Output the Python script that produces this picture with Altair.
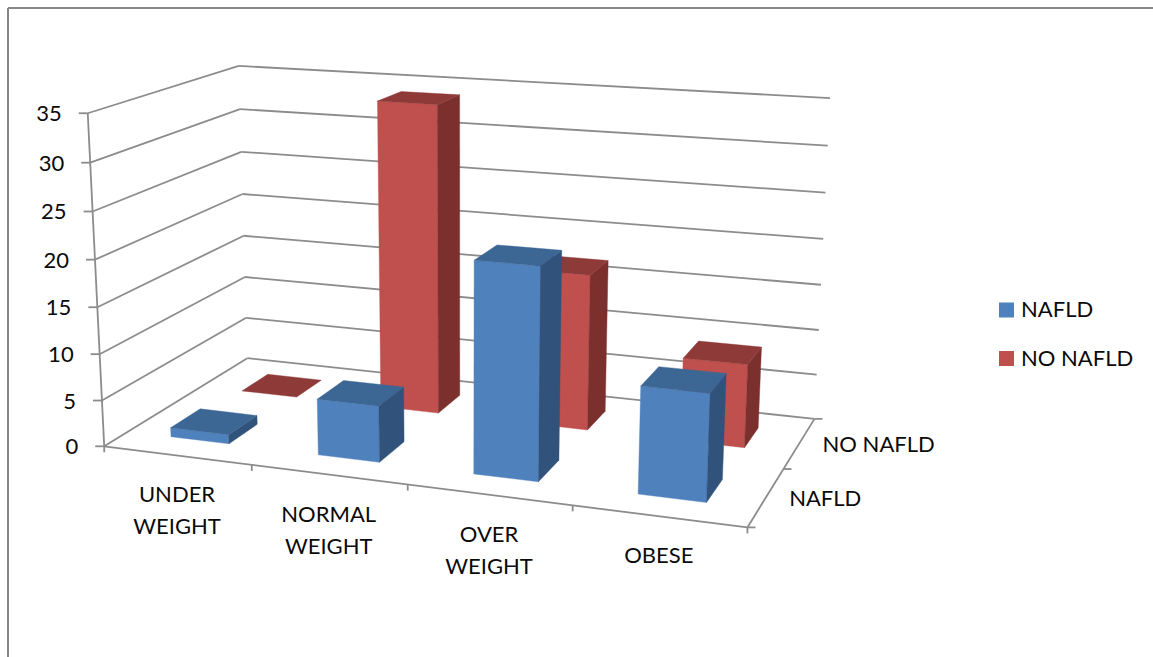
import altair as alt
import numpy as np

# Chart content
CATEGORIES = ["UNDER WEIGHT", "NORMAL WEIGHT", "OVER WEIGHT", "OBESE"]
SERIES = ["NAFLD", "NO NAFLD"]
NAFLD = [1, 6, 22, 11]
NO_NAFLD = [0, 34, 17, 9]
VALUE_TICKS = [0, 5, 10, 15, 20, 25, 30, 35]

FONT = "Lato"
TEXT = "#0A0A0A"
GRID = "#8C8C8C"
BORDER = "#868686"
BLUE = {"front": "#4F81BD", "top": "#3C6694", "side": "#31537B"}
RED = {"front": "#C0504D", "top": "#8E3A38", "side": "#7B302E"}
BAR_FRACTION = 0.4

# Camera calibration: (category, depth, value) -> screen position
CAMERA_POINTS = [
    ((0, 0, 0), (105, 446)), ((1, 0, 0), (252, 466)), ((2, 0, 0), (407, 485)),
    ((3, 0, 0), (572, 506)), ((4, 0, 0), (748, 527)), ((4, 1, 0), (783, 468)),
    ((4, 2, 0), (815, 418)), ((0, 2, 0), (247, 358)), ((0, 0, 35), (88, 113)),
    ((0, 0, 30), (90, 162)), ((0, 2, 35), (239, 66)), ((0, 2, 25), (241, 152)),
    ((4, 2, 35), (830, 98)), ((4, 2, 20), (823, 240)), ((4, 2, 5), (817, 375)),
]


def solve_camera(points):
    rows = []
    for (u, v, h), (x, y) in points:
        p = [u, v, h / 10, 1]
        rows.append(p + [0, 0, 0, 0] + [-x * c for c in p])
        rows.append([0, 0, 0, 0] + p + [-y * c for c in p])
    return np.linalg.svd(np.array(rows, float))[2][-1].reshape(3, 4)


CAMERA = solve_camera(CAMERA_POINTS)


def project(u, v, h):
    sx, sy, w = CAMERA @ np.array([u, v, h / 10, 1.0])
    return [float(sx / w), float(sy / w)]


def face(corners, fill):
    ring = [project(*c) for c in corners]
    ring.append(ring[0])
    # d3-geo treats the ring as planar under the identity projection; keep a stable winding
    area = sum(a[0] * b[1] - b[0] * a[1] for a, b in zip(ring, ring[1:]))
    if area > 0:
        ring.reverse()
    return {"type": "Feature", "properties": {"fill": fill},
            "geometry": {"type": "Polygon", "coordinates": [ring]}}


def bar_faces(cat, depth, value, shades):
    gap = (1 - BAR_FRACTION) / 2
    u0, u1 = cat + gap, cat + 1 - gap
    v0, v1 = depth + gap, depth + 1 - gap
    faces = []
    if value > 0:
        faces.append(face([(u0, v0, 0), (u1, v0, 0), (u1, v0, value), (u0, v0, value)], shades["front"]))
        faces.append(face([(u1, v0, 0), (u1, v1, 0), (u1, v1, value), (u1, v0, value)], shades["side"]))
    faces.append(face([(u0, v0, value), (u1, v0, value), (u1, v1, value), (u0, v1, value)], shades["top"]))
    return faces


# Rear series first so the front row paints over it
polygons = []
for i, val in enumerate(NO_NAFLD):
    polygons += bar_faces(i, 1, val, RED)
for i, val in enumerate(NAFLD):
    polygons += bar_faces(i, 0, val, BLUE)


def seg(a, b, dx=0, dy=0):
    pa, pb = project(*a), project(*b)
    return {"x": pa[0], "y": pa[1], "x2": pb[0] + dx, "y2": pb[1] + dy}


n = len(CATEGORIES)
grid_rows = []
for t in VALUE_TICKS:
    grid_rows.append(seg((0, 0, t), (0, 2, t)))
    grid_rows.append(seg((0, 2, t), (n, 2, t)))
axis_rows = [seg((0, 0, 0), (0, 0, 35)), seg((0, 0, 0), (n, 0, 0)), seg((n, 0, 0), (n, 2, 0))]
for t in VALUE_TICKS:
    axis_rows.append(seg((0, 0, t), (0, 0, t), dx=-9))
for i in range(n + 1):
    axis_rows.append(seg((i, 0, 0), (i, 0, 0), dy=6))
for d in range(3):
    axis_rows.append(seg((n, d, 0), (n, d, 0), dx=8))

text_rows = []
for t in VALUE_TICKS:
    x, y = project(0, 0, t)
    text_rows.append({"x": x - 26, "y": y + 1, "label": str(t), "align": "right"})
for i, name in enumerate(CATEGORIES):
    x, y = project(i + 0.5, 0, 0)
    words = name.split(" ")
    for k, word in enumerate(words):
        text_rows.append({"x": x, "y": y + 40 + 32 * k, "label": word, "align": "center"})
for d, name in enumerate(SERIES):
    x, y = project(n, d + 0.5, 0)
    text_rows.append({"x": x + 23, "y": y + 2, "label": name, "align": "left"})
left_text = [r for r in text_rows if r["align"] == "left"]
right_text = [r for r in text_rows if r["align"] == "right"]
center_text = [r for r in text_rows if r["align"] == "center"]

legend_rows = [{"label": s, "color": c["front"], "y": 310 + 48.5 * i}
               for i, (s, c) in enumerate(zip(SERIES, [BLUE, RED]))]

PX = dict(scale=None)


def rules(rows, color, width):
    return alt.Chart(alt.Data(values=rows)).mark_rule(color=color, strokeWidth=width).encode(
        x=alt.X("x:Q", **PX), y=alt.Y("y:Q", **PX),
        x2=alt.X2("x2:Q"), y2=alt.Y2("y2:Q"))


def labels(rows, align):
    return alt.Chart(alt.Data(values=rows)).mark_text(
        font=FONT, fontSize=22, color=TEXT, align=align, baseline="middle"
    ).encode(x=alt.X("x:Q", **PX), y=alt.Y("y:Q", **PX), text="label:N")


frame = rules([{"x": 8, "y": 8, "x2": 1153, "y2": 8}, {"x": 8, "y": 8, "x2": 8, "y2": 657}], BORDER, 2)

bars = alt.Chart(alt.Data(values=polygons)).mark_geoshape(strokeWidth=0.4).encode(
    fill=alt.Fill("properties.fill:N", scale=None),
    stroke=alt.Stroke("properties.fill:N", scale=None),
).project(type="identity", scale=1, translate=[0, 0])

legend_marks = alt.Chart(alt.Data(values=legend_rows)).mark_square(size=225, opacity=1).encode(
    x=alt.value(1006.5), y=alt.Y("y:Q", **PX), fill=alt.Fill("color:N", scale=None),
    stroke=alt.value(None))
legend_text = alt.Chart(alt.Data(values=legend_rows)).mark_text(
    font=FONT, fontSize=22, color=TEXT, align="left", baseline="middle"
).encode(x=alt.value(1021), y=alt.Y("y:Q", **PX), text="label:N")

chart = alt.layer(
    frame, rules(grid_rows, GRID, 1.8), rules(axis_rows, GRID, 1.8), bars,
    labels(left_text, "left"), labels(right_text, "right"), labels(center_text, "center"),
    legend_marks, legend_text,
).properties(
    width=1153, height=657, padding=0, autosize=alt.AutoSizeParams(type="none"), background="white"
).configure_view(stroke=None)

chart.save("out.html", embed_options={"renderer": "svg", "actions": False})
